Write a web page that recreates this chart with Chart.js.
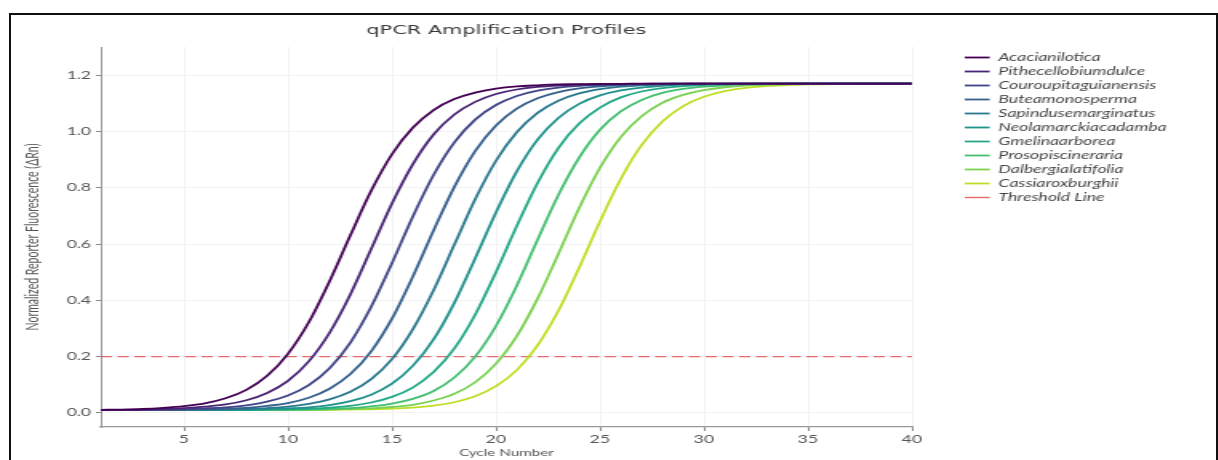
<!DOCTYPE html>
<html>
<head>
<meta charset="utf-8">
<title>qPCR Amplification Profiles</title>
<script src="https://cdn.jsdelivr.net/npm/chart.js@4.4.1/dist/chart.umd.min.js"></script>
<style>
  html, body { margin: 0; padding: 0; background: #fff; overflow: hidden; }
  /* the reference picture is stretched sideways, so the chart is drawn narrow and widened */
  #stretch { position: absolute; left: 0; top: 0; width: 761px; height: 460px; transform: scaleX(1.6); transform-origin: 0 0; }
  #frame { position: absolute; left: 9px; top: 13px; width: 1205px; height: 460px; border: 2px solid #111; border-bottom: none; pointer-events: none; }
</style>
</head>
<body>
<div id="stretch"><canvas id="chart"></canvas></div>
<div id="frame"></div>
<script>
// === DATA === //
const cycles = [1, 2, 3, 4, 5, 6, 7, 8, 9, 10, 11, 12, 13, 14, 15, 16, 17, 18, 19, 20,
  21, 22, 23, 24, 25, 26, 27, 28, 29, 30, 31, 32, 33, 34, 35, 36, 37, 38, 39, 40];

const species = ['Acacianilotica', 'Pithecellobiumdulce', 'Couroupitaguianensis', 'Buteamonosperma',
  'Sapindusemarginatus', 'Neolamarckiacadamba', 'Gmelinaarborea', 'Prosopiscineraria',
  'Dalbergialatifolia', 'Cassiaroxburghii'];

// normalized reporter fluorescence per cycle
const acaciaNilotica = [0.011, 0.012, 0.014, 0.018, 0.024, 0.034, 0.052, 0.082, 0.132, 0.210,
  0.322, 0.468, 0.631, 0.789, 0.919, 1.013, 1.076, 1.115, 1.138, 1.152,
  1.160, 1.164, 1.167, 1.168, 1.169, 1.169, 1.170, 1.170, 1.170, 1.170,
  1.170, 1.170, 1.170, 1.170, 1.170, 1.170, 1.170, 1.170, 1.170, 1.170];
const pithecellobiumDulce = [0.011, 0.011, 0.012, 0.014, 0.017, 0.022, 0.030, 0.045, 0.071, 0.114,
  0.183, 0.285, 0.421, 0.582, 0.744, 0.883, 0.989, 1.060, 1.105, 1.133,
  1.149, 1.158, 1.163, 1.166, 1.168, 1.169, 1.169, 1.170, 1.170, 1.170,
  1.170, 1.170, 1.170, 1.170, 1.170, 1.170, 1.170, 1.170, 1.170, 1.170];
const couroupitaGuianensis = [0.010, 0.011, 0.011, 0.012, 0.013, 0.016, 0.020, 0.027, 0.040, 0.062,
  0.099, 0.159, 0.250, 0.377, 0.532, 0.697, 0.845, 0.961, 1.042, 1.094,
  1.126, 1.145, 1.156, 1.162, 1.165, 1.167, 1.169, 1.169, 1.170, 1.170,
  1.170, 1.170, 1.170, 1.170, 1.170, 1.170, 1.170, 1.170, 1.170, 1.170];
const buteaMonosperma = [0.010, 0.010, 0.011, 0.011, 0.012, 0.013, 0.015, 0.018, 0.025, 0.035,
  0.054, 0.086, 0.138, 0.219, 0.335, 0.484, 0.648, 0.803, 0.930, 1.021,
  1.081, 1.118, 1.140, 1.153, 1.160, 1.164, 1.167, 1.168, 1.169, 1.170,
  1.170, 1.170, 1.170, 1.170, 1.170, 1.170, 1.170, 1.170, 1.170, 1.170];
const sapindusEmarginatus = [0.010, 0.010, 0.010, 0.010, 0.011, 0.011, 0.012, 0.014, 0.017, 0.022,
  0.032, 0.048, 0.075, 0.120, 0.191, 0.297, 0.436, 0.598, 0.759, 0.896,
  0.997, 1.066, 1.109, 1.135, 1.150, 1.159, 1.164, 1.166, 1.168, 1.169,
  1.169, 1.170, 1.170, 1.170, 1.170, 1.170, 1.170, 1.170, 1.170, 1.170];
const neolamarckiaCadamba = [0.010, 0.010, 0.010, 0.010, 0.010, 0.011, 0.011, 0.012, 0.013, 0.016,
  0.020, 0.028, 0.042, 0.065, 0.104, 0.167, 0.261, 0.391, 0.549, 0.712,
  0.858, 0.971, 1.048, 1.098, 1.128, 1.146, 1.156, 1.162, 1.166, 1.168,
  1.169, 1.169, 1.170, 1.170, 1.170, 1.170, 1.170, 1.170, 1.170, 1.170];
const gmelinaArborea = [0.010, 0.010, 0.010, 0.010, 0.010, 0.010, 0.011, 0.011, 0.012, 0.013,
  0.015, 0.019, 0.025, 0.037, 0.057, 0.090, 0.145, 0.229, 0.349, 0.500,
  0.664, 0.817, 0.941, 1.028, 1.085, 1.121, 1.142, 1.154, 1.161, 1.165,
  1.167, 1.168, 1.169, 1.170, 1.170, 1.170, 1.170, 1.170, 1.170, 1.170];
const prosopisCineraria = [0.010, 0.010, 0.010, 0.010, 0.010, 0.010, 0.010, 0.010, 0.011, 0.011,
  0.012, 0.014, 0.017, 0.023, 0.033, 0.050, 0.078, 0.126, 0.200, 0.309,
  0.452, 0.615, 0.774, 0.907, 1.006, 1.071, 1.112, 1.137, 1.151, 1.159,
  1.164, 1.167, 1.168, 1.169, 1.170, 1.170, 1.170, 1.170, 1.170, 1.170];
const dalbergiaLatifolia = [0.010, 0.010, 0.010, 0.010, 0.010, 0.010, 0.010, 0.010, 0.010, 0.011,
  0.011, 0.012, 0.014, 0.016, 0.021, 0.029, 0.044, 0.068, 0.109, 0.175,
  0.273, 0.406, 0.565, 0.728, 0.871, 0.980, 1.054, 1.102, 1.130, 1.147,
  1.157, 1.163, 1.166, 1.168, 1.169, 1.169, 1.170, 1.170, 1.170, 1.170];
const cassiaRoxburghii = [0.010, 0.010, 0.010, 0.010, 0.010, 0.010, 0.010, 0.010, 0.010, 0.010,
  0.011, 0.011, 0.012, 0.013, 0.015, 0.019, 0.026, 0.038, 0.059, 0.095,
  0.152, 0.240, 0.363, 0.516, 0.680, 0.831, 0.951, 1.035, 1.090, 1.123,
  1.143, 1.155, 1.161, 1.165, 1.167, 1.168, 1.169, 1.170, 1.170, 1.170];

const thresholdLevel = 0.2;
const xTickValues = [5, 10, 15, 20, 25, 30, 35, 40];
const yTickValues = [0, 0.2, 0.4, 0.6, 0.8, 1.0, 1.2];

const seriesValues = [acaciaNilotica, pithecellobiumDulce, couroupitaGuianensis, buteaMonosperma,
  sapindusEmarginatus, neolamarckiaCadamba, gmelinaArborea, prosopisCineraria,
  dalbergiaLatifolia, cassiaRoxburghii];

// viridis, 0 .. 0.9
const palette = ['#440154', '#482475', '#414487', '#355f8d', '#2a788e',
  '#21918c', '#22a884', '#44bf70', '#7ad151', '#bddf26'];

const FONT = 'Lato, "Open Sans", sans-serif';
const TITLE_FONT = '"DejaVu Sans", sans-serif';

// === DATASETS === //
const datasets = species.map((name, i) => ({
  label: name,
  data: seriesValues[i],
  borderColor: palette[i],
  backgroundColor: palette[i],
  borderWidth: 1.8,
  pointRadius: 0,
  cubicInterpolationMode: 'monotone',
  fill: false
}));

datasets.push({
  label: 'Threshold Line',
  data: [{ x: cycles[0], y: thresholdLevel }, { x: cycles[cycles.length - 1], y: thresholdLevel }],
  borderColor: 'rgba(224, 80, 80, 0.85)',
  backgroundColor: 'rgba(224, 80, 80, 0.85)',
  borderDash: [7, 3.5],
  borderWidth: 1.4,
  pointRadius: 0,
  fill: false
});

// legend box: leave a gap after the plot and let it run to the canvas edge
const legendGap = {
  id: 'legendGap',
  afterLayout(chart) {
    const lg = chart.legend;
    lg.left = chart.chartArea.right + 30;
    lg.right = chart.width;
    lg.width = lg.right - lg.left;
    lg.top += 2;
    lg.bottom += 2;
  }
};

new Chart(document.getElementById('chart'), {
  type: 'line',
  data: { labels: cycles, datasets },
  plugins: [legendGap],
  options: {
    responsive: true,
    maintainAspectRatio: false,
    animation: false,
    layout: { padding: { left: 0, right: 131, top: 0, bottom: 0 } },
    plugins: {
      title: {
        display: true,
        text: 'qPCR Amplification Profiles',
        fullSize: false,
        color: '#3a3a3a',
        font: { family: TITLE_FONT, size: 13, weight: 'normal' },
        padding: { top: 23, bottom: 8.4 }
      },
      legend: {
        position: 'right',
        align: 'start',
        fullSize: false,
        maxWidth: 60,
        labels: {
          usePointStyle: true,
          pointStyle: 'line',
          pointStyleWidth: 15.6,
          padding: 3,
          color: '#444',
          font: { family: FONT, size: 11, style: 'italic' }
        }
      },
      tooltip: { enabled: false }
    },
    scales: {
      x: {
        type: 'linear',
        min: 1,
        max: 40,
        afterBuildTicks: (scale) => { scale.ticks = xTickValues.map(v => ({ value: v })); },
        afterFit: (scale) => { scale.height = 33; },
        grid: { color: '#f2f2f2', tickColor: '#888', tickLength: 4 },
        border: { color: '#999', width: 1.2 },
        ticks: { color: '#555', font: { family: FONT, size: 11 }, padding: 2, maxRotation: 0 },
        title: {
          display: true,
          text: 'Cycle Number',
          color: '#555',
          font: { family: FONT, size: 9.5 },
          padding: { top: 0, bottom: 1.4 }
        }
      },
      y: {
        min: -0.05,
        max: 1.3,
        afterBuildTicks: (scale) => { scale.ticks = yTickValues.map(v => ({ value: v })); },
        afterFit: (scale) => { scale.width = 63; },
        grid: { color: '#f3f3f3', tickColor: '#888', tickLength: 3 },
        border: { color: '#999', width: 1 },
        ticks: {
          color: '#555',
          font: { family: FONT, size: 11 },
          padding: 3,
          callback: (v) => Number(v).toFixed(1)
        },
        title: {
          display: true,
          text: 'Normalized Reporter Fluorescence (ΔRn)',
          color: '#555',
          font: { family: FONT, size: 10.5 },
          padding: { top: 14, bottom: 0 }
        }
      }
    }
  }
});
</script>
</body>
</html>
